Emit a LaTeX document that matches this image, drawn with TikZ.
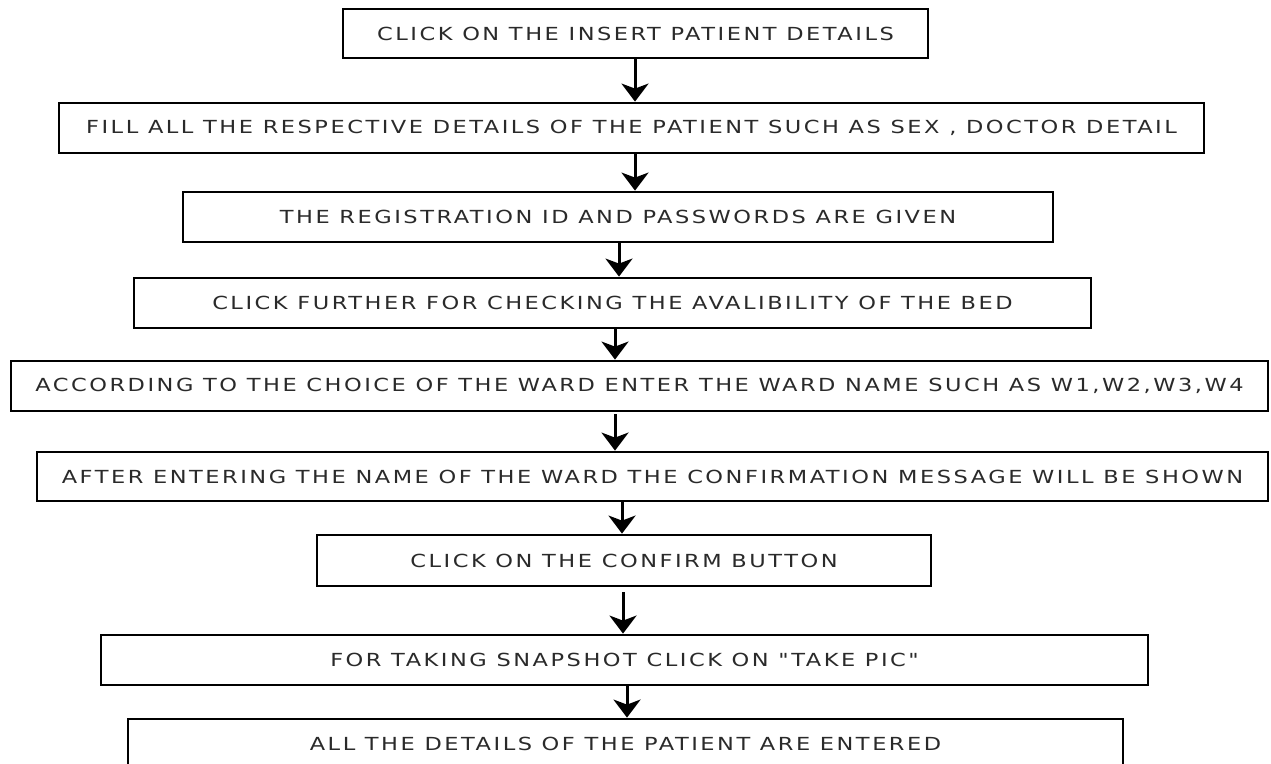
\documentclass[tikz,border=0pt]{standalone}
\usepackage{fontspec}
\newfontfamily\boxfont[FakeStretch=1.25,LetterSpace=14]{DejaVu Sans}
\usetikzlibrary{arrows.meta}
\definecolor{textgray}{HTML}{2A2A2A}

\begin{document}
\begin{tikzpicture}[x=1pt,y=-1pt,
  stepbox/.style={draw=black, line width=2.8pt, minimum height=50pt,
    inner sep=0pt, text=textgray, font=\boxfont\fontsize{18}{20}\selectfont},
  flow/.style={line width=3pt, draw=black,
    -{Stealth[length=18pt,width=27pt,inset=5pt]}}]
\useasboundingbox (0,0) rectangle (1271,763);
\clip (0,0) rectangle (1271,763);
\fill[white] (0,0) rectangle (1271,763);

% process steps
\node[stepbox, minimum width=585pt, minimum height=49pt] (s1) at (635.5,33.5) {CLICK ON THE INSERT PATIENT DETAILS};
\node[stepbox, minimum width=1145pt] (s2) at (631.5,128) {FILL ALL THE RESPECTIVE DETAILS OF THE PATIENT SUCH AS SEX , DOCTOR DETAIL};
\node[stepbox, minimum width=870pt] (s3) at (618,217) {THE REGISTRATION ID AND PASSWORDS ARE GIVEN};
\node[stepbox, minimum width=957pt] (s4) at (612.5,303) {CLICK FURTHER FOR CHECKING THE AVALIBILITY OF THE BED};
\node[stepbox, minimum width=1257pt] (s5) at (639.5,386) {ACCORDING TO THE CHOICE OF THE WARD ENTER THE WARD NAME SUCH AS W1,W2,W3,W4};
\node[stepbox, minimum width=1231pt, minimum height=49pt] (s6) at (652.5,476.5) {AFTER ENTERING THE NAME OF THE WARD THE CONFIRMATION MESSAGE WILL BE SHOWN};
\node[stepbox, minimum width=614pt, minimum height=51pt] (s7) at (624,560.5) {CLICK ON THE CONFIRM BUTTON};
\node[stepbox, minimum width=1047pt] (s8) at (624.5,660) {FOR TAKING SNAPSHOT CLICK ON "TAKE PIC"};
\node[stepbox, minimum width=995pt] (s9) at (625.5,744) {ALL THE DETAILS OF THE PATIENT ARE ENTERED};

% arrow columns
\coordinate (a1) at (635,0);
\coordinate (a2) at (635,0);
\coordinate (a3) at (619,0);
\coordinate (a4) at (615,0);
\coordinate (a5) at (615,0);
\coordinate (a6) at (622,0);
\coordinate (a7) at (623,0);
\coordinate (a8) at (627,0);

\draw[flow] (s1.south -| a1) -- (s2.north -| a1);
\draw[flow] (s2.south -| a2) -- (s3.north -| a2);
\draw[flow] (s3.south -| a3) -- (s4.north -| a3);
\draw[flow] (s4.south -| a4) -- (s5.north -| a4);
\draw[flow, shorten <=2pt] (s5.south -| a5) -- (s6.north -| a5);
\draw[flow] (s6.south -| a6) -- (s7.north -| a6);
\draw[flow, shorten <=5pt] (s7.south -| a7) -- (s8.north -| a7);
\draw[flow] (s8.south -| a8) -- (s9.north -| a8);
\end{tikzpicture}
\end{document}
